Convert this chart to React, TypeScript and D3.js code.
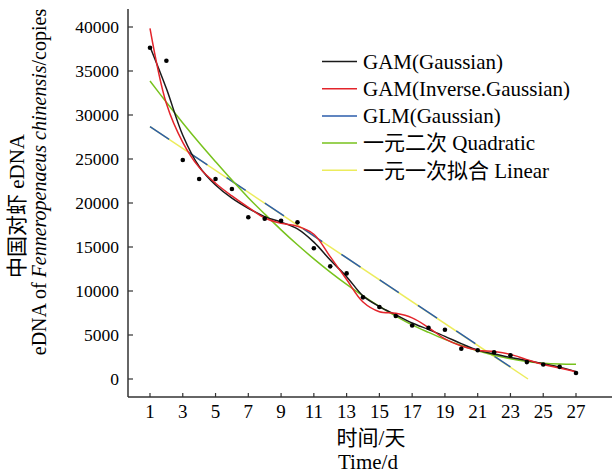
import React, { useEffect, useRef } from "react";
import * as d3 from "d3";

// observed eDNA copies per day
const days = d3.range(1, 28);
const observed = [
  37650, 36170, 24890, 22730, 22730, 21590, 18375, 18220, 17990, 17800, 14850,
  12800, 12000, 9280, 8180, 7160, 6080, 5830, 5600, 3430, 3260, 3030, 2690,
  1920, 1650, 1380, 690,
];

// fitted curves, read at each day
const gamGaussian = [
  37760, 33000, 27700, 24150, 22050, 20550, 19400, 18450, 17830, 17050, 15550,
  13520, 11630, 9450, 8230, 7300, 6370, 5620, 4850, 4020, 3280, 2830, 2450,
  2100, 1730, 1350, 830,
];
const gamInverse = [
  39850, 31300, 26900, 24050, 22250, 20800, 19500, 18300, 17690, 17350, 16450,
  13900, 11300, 8750, 7650, 7460, 6950, 5850, 4550, 3750, 3280, 3130, 2800,
  2200, 1650, 1250, 830,
];
const quadratic = [
  33860, 31450, 29100, 26850, 24700, 22600, 20600, 18750, 16950, 15250, 13650,
  12150, 10750, 9450, 8250, 7150, 6150, 5300, 4500, 3800, 3200, 2700, 2300,
  2000, 1800, 1700, 1670,
];
const glmDays = [1, 23];
const glmValues = [28670, 1370];
const linearDays = [1, 24.07];
const linearValues = [28670, 0];

const yTicks = [0, 5000, 10000, 15000, 20000, 25000, 30000, 35000, 40000];
const xTicks = [1, 3, 5, 7, 9, 11, 13, 15, 17, 19, 21, 23, 25, 27];

const legendItems = [
  { label: "GAM(Gaussian)", color: "#1a1a1a" },
  { label: "GAM(Inverse.Gaussian)", color: "#e3242b" },
  { label: "GLM(Gaussian)", color: "#2b5cab" },
  { label: "一元二次 Quadratic", color: "#77c21c" },
  { label: "一元一次拟合 Linear", color: "#ecec5c" },
];

const SERIF = "'Liberation Serif', 'Times New Roman', 'Noto Sans CJK SC', serif";

const App: React.FC = () => {
  const svgRef = useRef<SVGSVGElement>(null);

  useEffect(() => {
    if (!svgRef.current) return;
    const root = d3.select(svgRef.current);
    root.selectAll("*").remove();
    root.attr("width", 612).attr("height", 473);

    const x = d3.scaleLinear().domain([1, 27]).range([150, 576]);
    const y = d3.scaleLinear().domain([0, 40000]).range([379, 27]);
    const axisX = 128;
    const axisY = 397;

    const g = root.append("g").attr("font-family", SERIF);

    // axis lines
    g.append("line")
      .attr("x1", axisX).attr("x2", axisX).attr("y1", 9).attr("y2", axisY)
      .attr("stroke", "#333").attr("stroke-width", 1.5);
    g.append("line")
      .attr("x1", axisX).attr("x2", 612).attr("y1", axisY).attr("y2", axisY)
      .attr("stroke", "#333").attr("stroke-width", 1.5);

    // y ticks
    yTicks.forEach((t) => {
      g.append("line")
        .attr("x1", axisX).attr("x2", axisX + 5)
        .attr("y1", y(t)).attr("y2", y(t))
        .attr("stroke", "#333").attr("stroke-width", 1.2);
      g.append("text")
        .attr("x", 119).attr("y", y(t))
        .attr("dy", "0.35em")
        .attr("text-anchor", "end")
        .attr("font-size", 17.5)
        .text(t);
    });

    // x ticks
    xTicks.forEach((t) => {
      g.append("line")
        .attr("x1", x(t)).attr("x2", x(t))
        .attr("y1", axisY).attr("y2", axisY - 4)
        .attr("stroke", "#333").attr("stroke-width", 1.2);
      g.append("text")
        .attr("x", x(t)).attr("y", 418)
        .attr("text-anchor", "middle")
        .attr("font-size", 19)
        .text(t);
    });

    // axis titles
    g.append("text")
      .attr("x", 371).attr("y", 445)
      .attr("text-anchor", "middle").attr("font-size", 21)
      .text("时间/天");
    g.append("text")
      .attr("x", 368).attr("y", 469)
      .attr("text-anchor", "middle").attr("font-size", 21)
      .text("Time/d");

    const yt1 = g.append("text")
      .attr("transform", "translate(24,206) rotate(-90)")
      .attr("text-anchor", "middle").attr("font-size", 21);
    yt1.text("中国对虾 eDNA");
    const yt2 = g.append("text")
      .attr("transform", "translate(46,182) rotate(-90)")
      .attr("text-anchor", "middle").attr("font-size", 20);
    yt2.append("tspan").text("eDNA of ");
    yt2.append("tspan").attr("font-style", "italic").text("Fenneropenaeus chinensis");
    yt2.append("tspan").text("/copies");

    const curve = d3
      .line<[number, number]>()
      .x((d) => x(d[0]))
      .y((d) => y(d[1]))
      .curve(d3.curveCatmullRom.alpha(0.5));
    const straight = d3
      .line<[number, number]>()
      .x((d) => x(d[0]))
      .y((d) => y(d[1]));

    const zipDays = (vals: number[]) =>
      days.map((d, i) => [d, vals[i]] as [number, number]);

    // linear (yellow) under dashed GLM (blue)
    g.append("path")
      .attr("d", straight(linearDays.map((d, i) => [d, linearValues[i]] as [number, number])))
      .attr("fill", "none").attr("stroke", legendItems[4].color).attr("stroke-width", 1.5);
    g.append("path")
      .attr("d", straight(glmDays.map((d, i) => [d, glmValues[i]] as [number, number])))
      .attr("fill", "none").attr("stroke", legendItems[2].color).attr("stroke-width", 1.5)
      .attr("stroke-dasharray", "23 23");

    g.append("path")
      .attr("d", curve(zipDays(quadratic)))
      .attr("fill", "none").attr("stroke", legendItems[3].color).attr("stroke-width", 1.5);
    g.append("path")
      .attr("d", curve(zipDays(gamGaussian)))
      .attr("fill", "none").attr("stroke", legendItems[0].color).attr("stroke-width", 1.5);
    g.append("path")
      .attr("d", curve(zipDays(gamInverse)))
      .attr("fill", "none").attr("stroke", legendItems[1].color).attr("stroke-width", 1.5);

    // observed points
    g.selectAll("circle.obs")
      .data(observed)
      .enter()
      .append("circle")
      .attr("class", "obs")
      .attr("cx", (_, i) => x(days[i]))
      .attr("cy", (d) => y(d))
      .attr("r", 2.3)
      .attr("fill", "#000");

    // legend
    legendItems.forEach((item, i) => {
      const ly = 61.5 + i * 27.2;
      g.append("line")
        .attr("x1", 322).attr("x2", 357).attr("y1", ly).attr("y2", ly)
        .attr("stroke", item.color).attr("stroke-width", 1.5);
      g.append("text")
        .attr("x", 363).attr("y", ly).attr("dy", "0.35em")
        .attr("font-size", 21)
        .text(item.label);
    });
  }, []);

  return (
    <svg
      ref={svgRef}
      style={{ position: "absolute", left: 0, top: 0, background: "#fff" }}
    />
  );
};

export default App;
